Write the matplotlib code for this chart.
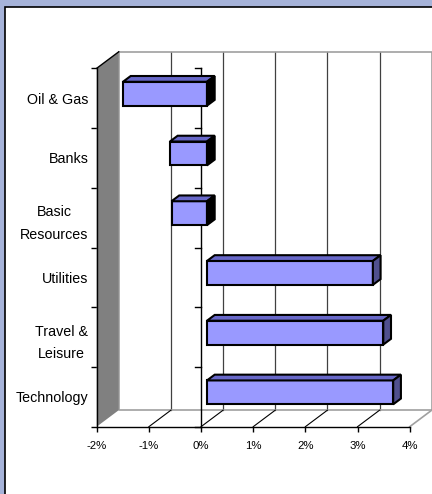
import matplotlib.pyplot as plt
from matplotlib.patches import Polygon, Rectangle
from matplotlib.ticker import FuncFormatter

plt.rcParams['font.family'] = ['Liberation Sans', 'DejaVu Sans']

# data, top to bottom as shown
categories = ['Oil & Gas', 'Banks', 'Basic\nResources', 'Utilities', 'Travel &\nLeisure', 'Technology']
values = [-1.61, -0.71, -0.68, 3.18, 3.38, 3.57]
x_ticks = [-2, -1, 0, 1, 2, 3, 4]

# oblique projection: full depth in data units
DX, DY = 0.422, 0.276
Z0, Z1 = 0.27, 0.62
BAR_H = 0.40


def proj(v, c, z):
    return (v + z * DX, c + z * DY)


def main():
    fig = plt.figure(figsize=(4.32, 4.94), dpi=100, facecolor='#A6B3D9')
    # chart area (white, black border, runs off right/bottom)
    fig.patches.append(Rectangle((4.5 / 432, -0.1), 2, (494 - 6.5) / 494 + 0.1,
                                 transform=fig.transFigure, facecolor='white',
                                 edgecolor='black', linewidth=1.2, zorder=-5))
    ax = fig.add_axes([96.7 / 432, (494 - 426.7) / 494, 313 / 432, 358.4 / 494])
    ax.set_xlim(-2, 4)
    ax.set_ylim(0, 6)
    ax.patch.set_visible(False)
    n = len(categories)

    # back wall gridlines
    for v in x_ticks[1:-1]:
        ax.plot(*zip(proj(v, 0, 1), proj(v, n, 1)), color='#404040', lw=0.9, clip_on=False, zorder=1)
    # back wall / floor outline
    outline = [proj(-2, n, 1), proj(4, n, 1), proj(4, 0, 1), proj(-2, 0, 1), proj(-2, n, 1)]
    ax.plot(*zip(*outline), color='#A0A0A0', lw=1.2, clip_on=False, zorder=1)
    ax.plot(*zip(proj(4, 0, 0), proj(4, 0, 1)), color='#A0A0A0', lw=1.2, clip_on=False, zorder=1)
    # floor diagonals
    for v in x_ticks[1:-1]:
        ax.plot(*zip(proj(v, 0, 0), proj(v, 0, 1)), color='black', lw=0.8, clip_on=False, zorder=1)
    # side wall
    wall = [proj(-2, 0, 0), proj(-2, 0, 1), proj(-2, n, 1), proj(-2, n, 0)]
    ax.add_patch(Polygon(wall, closed=True, facecolor='#808080', edgecolor='none',
                         clip_on=False, zorder=2))
    ax.plot(*zip(proj(-2, n, 0), proj(-2, n, 1)), color='black', lw=1, clip_on=False, zorder=2)

    # 0% axis line with ticks
    ax.plot([0, 0], [0, n], color='black', lw=1, clip_on=False, zorder=2)
    for c in range(n + 1):
        ax.plot([-0.115, 0], [c, c], color='black', lw=1, clip_on=False, zorder=2)

    # bars
    for i, val in enumerate(values):
        c = n - 1 - i + 0.5
        lo, hi = min(0, val), max(0, val)
        b, t = c - BAR_H / 2, c + BAR_H / 2
        front = [proj(lo, b, Z0), proj(hi, b, Z0), proj(hi, t, Z0), proj(lo, t, Z0)]
        top = [proj(lo, t, Z0), proj(hi, t, Z0), proj(hi, t, Z1), proj(lo, t, Z1)]
        side = [proj(hi, b, Z0), proj(hi, b, Z1), proj(hi, t, Z1), proj(hi, t, Z0)]
        side_col = 'black' if val < 0 else '#50508E'
        for poly, col in [(front, '#9999FF'), (top, '#6868C8'), (side, side_col)]:
            ax.add_patch(Polygon(poly, closed=True, facecolor=col, edgecolor='black',
                                 linewidth=1.5, joinstyle='miter', clip_on=False, zorder=3))

    # axes
    for s in ['top', 'right']:
        ax.spines[s].set_visible(False)
    for s in ['left', 'bottom']:
        ax.spines[s].set_linewidth(1)
        ax.spines[s].set_zorder(2.5)
    ax.set_xticks(x_ticks)
    ax.xaxis.set_major_formatter(FuncFormatter(lambda v, p: '{:.0f}%'.format(v)))
    ax.tick_params(axis='x', direction='out', length=3.6, width=1, pad=7, labelsize=8.2)
    ax.set_yticks(range(n + 1))
    ax.set_yticklabels([])
    ax.tick_params(axis='y', which='major', direction='out', length=4.3, width=1)
    ax.set_yticks([n - 1 - i + 0.5 for i in range(n)], minor=True)
    ax.set_yticklabels(categories, minor=True, fontsize=10.3, linespacing=1.8,
                       multialignment='center')
    ax.tick_params(axis='y', which='minor', length=0, pad=6)

    fig.savefig('out.png', dpi=100, facecolor=fig.get_facecolor())


if __name__ == '__main__':
    main()
